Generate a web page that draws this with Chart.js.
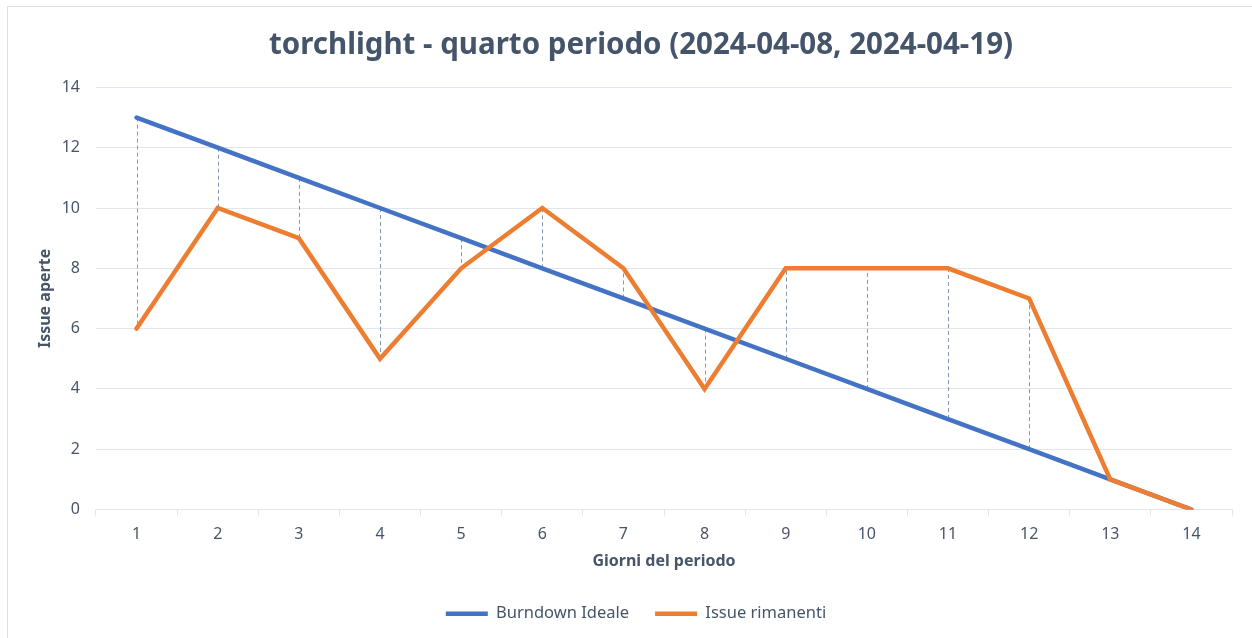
<!DOCTYPE html>
<html>
<head>
<meta charset="utf-8">
<script src="https://cdn.jsdelivr.net/npm/chart.js"></script>
<style>
  html, body { margin: 0; padding: 0; overflow: hidden; background: #fff; }
  #frame { position: absolute; left: 7px; top: 6px; width: 1300px; height: 700px; border: 1px solid #dde1e7; }
  #wrap { position: absolute; left: 0; top: 0; width: 1252px; height: 638px; }
</style>
</head>
<body>
<div id="frame"></div>
<div id="wrap"><canvas id="burndown"></canvas></div>
<script>
  // dati del periodo
  const giorni = ["1", "2", "3", "4", "5", "6", "7", "8", "9", "10", "11", "12", "13", "14"];
  const burndownIdeale = [13, 12, 11, 10, 9, 8, 7, 6, 5, 4, 3, 2, 1, 0];
  const issueRimanenti = [6, 10, 9, 5, 8, 10, 8, 4, 8, 8, 8, 7, 1, 0];
  const yTicks = [0, 2, 4, 6, 8, 10, 12, 14];

  const testo = "#475569";
  const griglia = "#e1e5ec";
  const font = "'Noto Sans', sans-serif";

  // linee tratteggiate alto-basso tra le due serie
  const lineeAltoBasso = {
    id: "lineeAltoBasso",
    afterLayout(chart) {
      // titolo e legenda centrati un po' piu' a destra, come in Excel
      chart.titleBlock.left += 50;
      chart.legend.left += 40;
    },
    beforeDatasetsDraw(chart) {
      const ctx = chart.ctx;
      const x = chart.scales.x;
      const y = chart.scales.y;
      ctx.save();
      ctx.strokeStyle = "#8596b0";
      ctx.lineWidth = 1;
      ctx.setLineDash([4, 3]);
      for (let i = 0; i < giorni.length; i++) {
        const px = Math.round(x.getPixelForValue(i)) + 0.5;
        ctx.beginPath();
        ctx.moveTo(px, y.getPixelForValue(burndownIdeale[i]));
        ctx.lineTo(px, y.getPixelForValue(issueRimanenti[i]));
        ctx.stroke();
      }
      ctx.restore();
    },
  };

  const ctx = document.getElementById("burndown").getContext("2d");

  new Chart(ctx, {
    type: "line",
    data: {
      labels: giorni,
      datasets: [
        {
          label: "Burndown Ideale",
          data: burndownIdeale,
          borderColor: "#4472c4",
          backgroundColor: "#4472c4",
          borderWidth: 4.5,
          borderCapStyle: "round",
          pointRadius: 0,
          tension: 0,
          order: 1,
        },
        {
          label: "Issue rimanenti",
          data: issueRimanenti,
          borderColor: "#ed7d31",
          backgroundColor: "#ed7d31",
          borderWidth: 4.5,
          borderCapStyle: "round",
          pointRadius: 0,
          tension: 0,
          order: 0,
        },
      ],
    },
    options: {
      responsive: true,
      maintainAspectRatio: false,
      animation: false,
      layout: { padding: { left: 0, right: 20, top: 0, bottom: 6 } },
      plugins: {
        tooltip: { enabled: false },
        title: {
          display: true,
          text: "torchlight - quarto periodo (2024-04-08, 2024-04-19)",
          color: "#44546a",
          font: { family: font, size: 29.5, weight: "bold", lineHeight: 1.2 },
          padding: { top: 28, bottom: 24 },
        },
        legend: {
          position: "bottom",
          labels: {
            color: testo,
            font: { family: font, size: 16.5 },
            usePointStyle: true,
            pointStyle: "line",
            pointStyleWidth: 42,
            boxHeight: 16,
            padding: 26,
            sort: (a, b) => a.datasetIndex - b.datasetIndex,
          },
        },
      },
      scales: {
        x: {
          offset: true,
          afterFit: (s) => { s.height = 70; },
          grid: {
            offset: true,
            drawOnChartArea: false,
            drawTicks: true,
            tickLength: 6,
            color: griglia,
          },
          border: { display: true, color: griglia, width: 1 },
          ticks: { color: testo, font: { family: font, size: 16 }, padding: 9, maxRotation: 0 },
          title: {
            display: true,
            text: "Giorni del periodo",
            color: testo,
            font: { family: font, size: 16, weight: "bold", lineHeight: 1.2 },
            padding: { top: 8, bottom: 8 },
          },
        },
        y: {
          min: 0,
          max: 14,
          afterFit: (s) => { s.width = 96; },
          afterBuildTicks: (s) => { s.ticks = yTicks.map((v) => ({ value: v })); },
          grid: { color: griglia, drawTicks: false },
          border: { display: false },
          ticks: { color: testo, font: { family: font, size: 16 }, padding: 16 },
          title: {
            display: true,
            text: "Issue aperte",
            color: testo,
            font: { family: font, size: 16, weight: "bold", lineHeight: 1.2 },
            padding: { top: 36, bottom: 0 },
          },
        },
      },
    },
    plugins: [lineeAltoBasso],
  });
</script>
</body>
</html>
